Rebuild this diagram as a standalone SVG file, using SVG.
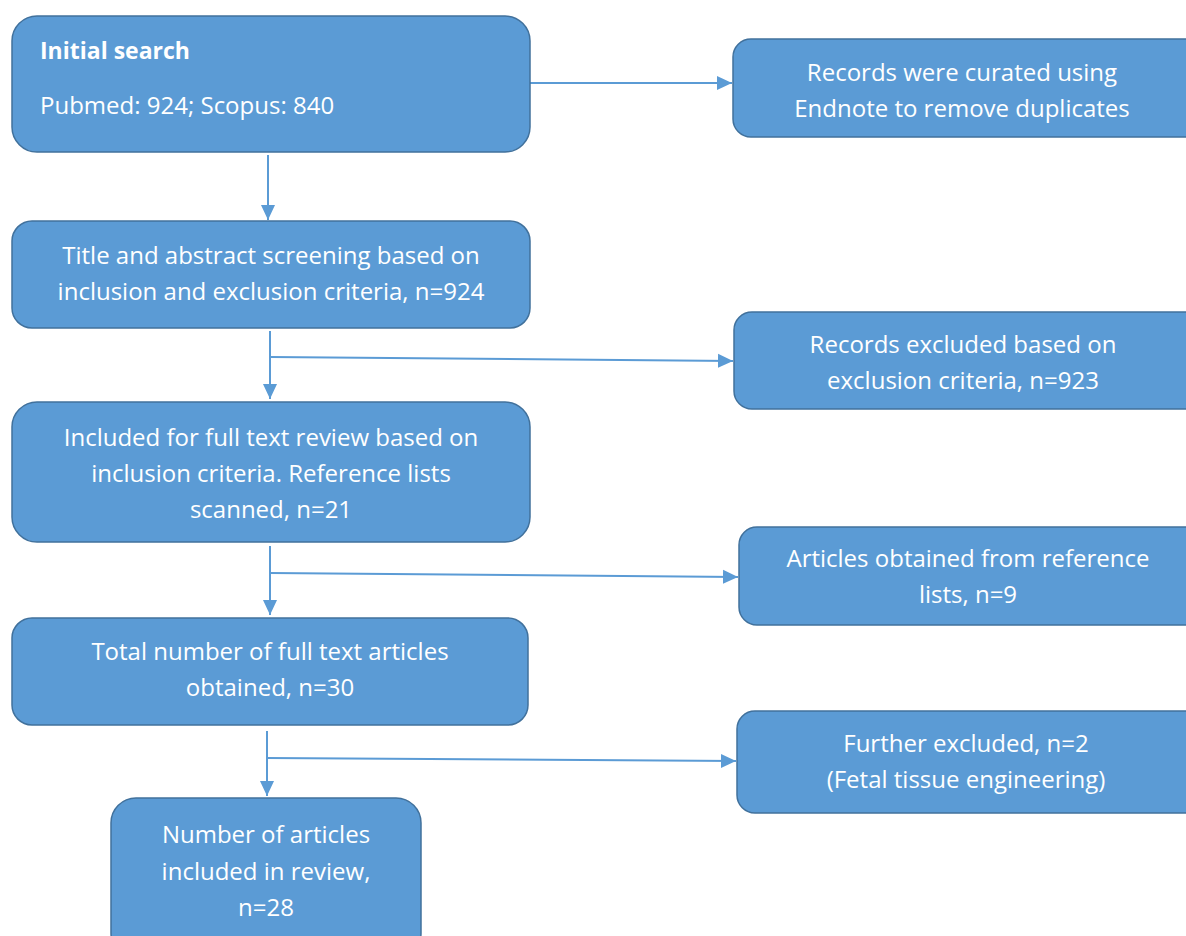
<svg xmlns="http://www.w3.org/2000/svg" width="1186" height="936" viewBox="0 0 1186 936">
<style>
.box{fill:#5B9BD5;stroke:#41719C;stroke-width:1.5}
.t{fill:#ffffff;font-family:"Open Sans","Liberation Sans",sans-serif;font-size:24px;text-anchor:middle}
.tl{text-anchor:start}
.b{font-weight:bold;font-size:23px}
.c{stroke:#5B9BD5;stroke-width:2;fill:none}
</style>
<defs>
<marker id="av" markerWidth="16" markerHeight="16" refX="15" refY="8" orient="auto" markerUnits="userSpaceOnUse">
<path d="M0,1 L15,8 L0,15 z" fill="#5B9BD5"/>
</marker>
</defs>
<rect width="1186" height="936" fill="#ffffff"/>
<g id="connectors">
<line class="c" x1="530" y1="83" x2="732" y2="83" marker-end="url(#av)"/>
<line class="c" x1="268" y1="155" x2="268" y2="220" marker-end="url(#av)"/>
<line class="c" x1="270" y1="331" x2="270" y2="399" marker-end="url(#av)"/>
<line class="c" x1="270" y1="357" x2="733" y2="361" marker-end="url(#av)"/>
<line class="c" x1="270" y1="546" x2="270" y2="615" marker-end="url(#av)"/>
<line class="c" x1="270" y1="573" x2="738" y2="577" marker-end="url(#av)"/>
<line class="c" x1="267" y1="731" x2="267" y2="796" marker-end="url(#av)"/>
<line class="c" x1="267" y1="758" x2="736" y2="761" marker-end="url(#av)"/>
</g>
<g id="n1">
<rect class="box" x="12" y="16" width="518" height="136" rx="25"/>
<text class="t tl b" x="40" y="59">Initial search</text>
<text class="t tl" x="40" y="114">Pubmed: 924; Scopus: 840</text>
</g>
<g id="r1">
<rect class="box" x="733" y="39" width="470" height="98" rx="18"/>
<text class="t" x="962" y="81">Records were curated using</text>
<text class="t" x="962" y="117">Endnote to remove duplicates</text>
</g>
<g id="n2">
<rect class="box" x="12" y="221" width="518" height="107" rx="20"/>
<text class="t" x="271" y="264">Title and abstract screening based on</text>
<text class="t" x="271" y="300">inclusion and exclusion criteria, n=924</text>
</g>
<g id="r2">
<rect class="box" x="734" y="312" width="470" height="97" rx="18"/>
<text class="t" x="963" y="353">Records excluded based on</text>
<text class="t" x="963" y="389">exclusion criteria, n=923</text>
</g>
<g id="n3">
<rect class="box" x="12" y="402" width="518" height="140" rx="25"/>
<text class="t" x="271" y="446">Included for full text review based on</text>
<text class="t" x="271" y="482">inclusion criteria. Reference lists</text>
<text class="t" x="271" y="518">scanned, n=21</text>
</g>
<g id="r3">
<rect class="box" x="739" y="527" width="465" height="98" rx="18"/>
<text class="t" x="968" y="567">Articles obtained from reference</text>
<text class="t" x="968" y="603">lists, n=9</text>
</g>
<g id="n4">
<rect class="box" x="12" y="618" width="516" height="107" rx="20"/>
<text class="t" x="270" y="660">Total number of full text articles</text>
<text class="t" x="270" y="696">obtained, n=30</text>
</g>
<g id="r4">
<rect class="box" x="737" y="711" width="467" height="102" rx="18"/>
<text class="t" x="966" y="752">Further excluded, n=2</text>
<text class="t" x="966" y="788">(Fetal tissue engineering)</text>
</g>
<g id="n5">
<rect class="box" x="111" y="798" width="310" height="160" rx="25"/>
<text class="t" x="266" y="843">Number of articles</text>
<text class="t" x="266" y="880">included in review,</text>
<text class="t" x="266" y="916">n=28</text>
</g>
</svg>
